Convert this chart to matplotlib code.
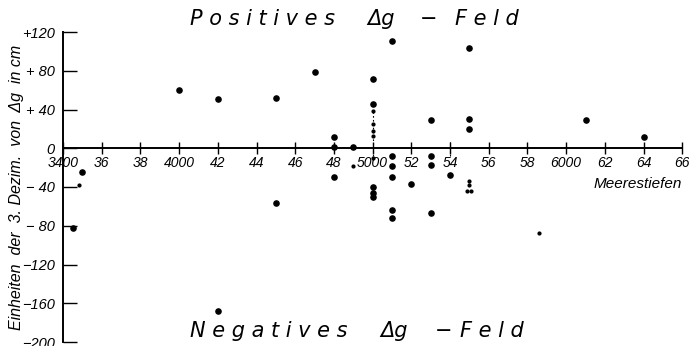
# Schwere-Anomalien gegen Meerestiefen (Punktdiagramm)
import matplotlib
matplotlib.use('Agg')
import matplotlib.pyplot as plt

# Messpunkte: Meerestiefe, Δg (Einheiten der 3. Dezimale)
depths = [3450, 3500, 4000, 4200, 4200, 4500, 4500, 4700, 4800, 4800, 4800, 4900,
          5000, 5000, 5000, 5000, 5000, 5100, 5100, 5100, 5100, 5100, 5100, 5200,
          5300, 5300, 5300, 5300, 5400, 5500, 5500, 5500, 6100, 6400]
values = [-82, -25, 60, 51, -168, 52, -57, 79, 12, 1, -30, 1,
          71, 46, -40, -46, -50, 111, -8, -18, -30, -64, -72, -37,
          29, -8, -17, -67, -28, 103, 30, 20, 29, 12]

# kleinere Punkte (schwach gedruckt)
small_depths = [4900, 5000, 5000, 5000, 5000, 5000, 5500, 5500, 5490, 5510, 5860, 3483]
small_values = [-18, 38, 25, 18, 13, -10, -34, -38, -44, -44, -87, -38]

xticks = list(range(3400, 6601, 200))
xlabels = ['3400', '36', '38', '4000', '42', '44', '46', '48', '5000',
           '52', '54', '56', '58', '6000', '62', '64', '66']
yticks = [120, 80, 40, 0, -40, -80, -120, -160, -200]
ylabels = ['+120', '+ 80', '+ 40', '0', '\u2212 40', '\u2212 80', '\u2212120', '\u2212160', '\u2212200']

plt.rcParams['font.family'] = ['Liberation Sans', 'DejaVu Sans']

fig = plt.figure(figsize=(6.89, 3.46), dpi=100)
W, H = 689, 346
ax = fig.add_axes([63 / W, (H - 342) / H, (682.3 - 63) / W, (342 - 32) / H])
ax.set_xlim(3400, 6600)
ax.set_ylim(-200, 120)

ax.scatter(depths, values, s=14, color='black', zorder=3, clip_on=False)
ax.scatter(small_depths, small_values, s=4, color='black', zorder=3, clip_on=False)

# gestrichelte Marken bei 5000 und 5400
ax.vlines(5000, -12, 40, colors='black', linestyles=(0, (1.5, 2)), lw=0.8)
ax.vlines(5400, -8, 6, colors='black', linestyles=(0, (1.5, 1.5)), lw=0.8)

for s in ['top', 'right']:
    ax.spines[s].set_visible(False)
ax.spines['bottom'].set_position(('data', 0))
ax.spines['bottom'].set_linewidth(1.4)
ax.spines['left'].set_linewidth(1.4)

ax.set_xticks(xticks)
ax.set_xticklabels(xlabels, fontsize=10, style='italic')
ax.tick_params(axis='x', direction='inout', length=9, width=1, pad=1)
ax.set_yticks(yticks)
ax.set_yticklabels(ylabels, fontsize=10.5, style='italic')
ax.tick_params(axis='y', direction='in', length=10, width=1, pad=6)

ax.text(6600, -37, 'Meerestiefen', fontsize=11, style='italic', ha='right', va='center')

# Feldbeschriftungen
kw = dict(fontsize=15, style='italic', family='DejaVu Sans', va='baseline')
fig.text(190 / W, 1 - 25 / H, 'P o s i t i v e s', **kw)
fig.text(367 / W, 1 - 25 / H, '\u0394g', **kw)
fig.text(420 / W, 1 - 25 / H, '\u2212', **kw)
fig.text(455 / W, 1 - 25 / H, 'F e l d', **kw)
fig.text(190 / W, 1 - 337 / H, 'N e g a t i v e s', **kw)
fig.text(380 / W, 1 - 337 / H, '\u0394g', **kw)
fig.text(435 / W, 1 - 337 / H, '\u2212', **kw)
fig.text(460 / W, 1 - 337 / H, 'F e l d', **kw)

fig.text(17 / W, 1 - 187 / H, 'Einheiten  der  3. Dezim.  von  \u0394g  in cm',
         rotation=90, fontsize=11.5, style='italic', ha='center', va='center')

fig.savefig('out.png', dpi=100)
